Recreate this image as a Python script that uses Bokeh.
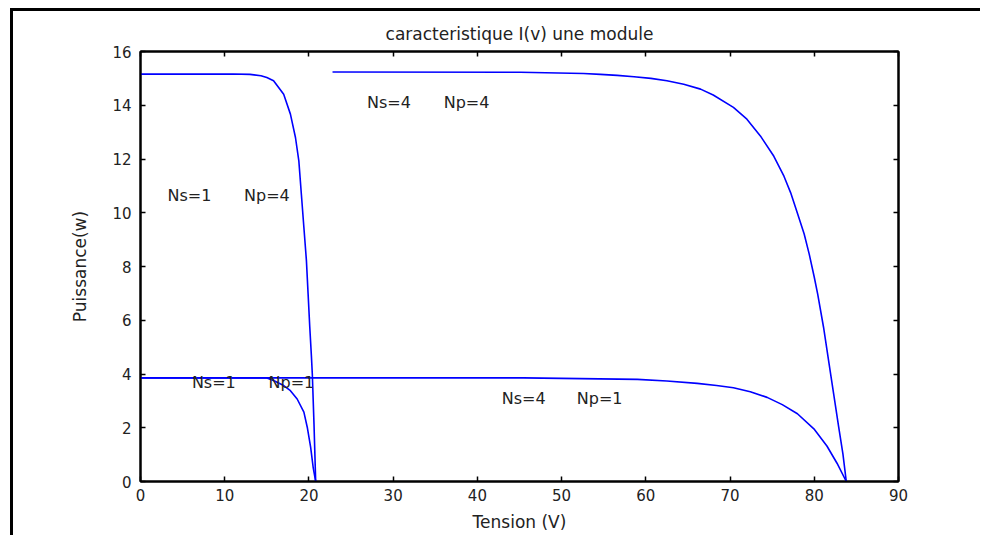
from bokeh.plotting import figure
from bokeh.models import Range1d, LinearAxis, FixedTicker, ColumnDataSource
from bokeh.core.properties import value
from bokeh.embed import file_html
from bokeh.resources import INLINE

# Axis ticks
x_ticks = [0, 10, 20, 30, 40, 50, 60, 70, 80, 90]
y_ticks = [0, 2, 4, 6, 8, 10, 12, 14, 16]

# Ns=1, Np=4
v_s1p4 = [0, 11.0, 13.0, 14.3, 15.0, 15.8, 17.0, 17.8, 18.4, 18.8, 19.1, 19.4,
          19.7, 19.9, 20.1, 20.3, 20.4, 20.6, 20.8]
i_s1p4 = [15.16, 15.16, 15.15, 15.10, 15.03, 14.91, 14.41, 13.67, 12.80, 11.93,
          10.69, 9.45, 8.22, 6.98, 5.74, 4.62, 4.0, 2.14, 0.0]

# Ns=1, Np=1
v_s1p1 = [0, 15.0, 15.8, 17.0, 17.8, 18.6, 19.4, 19.8, 20.2, 20.5, 20.8]
i_s1p1 = [3.855, 3.85, 3.76, 3.57, 3.38, 3.07, 2.58, 2.02, 1.28, 0.53, 0.0]

# Ns=4, Np=4
v_s4p4 = [22.8, 45.1, 52.6, 54.6, 56.6, 58.6, 60.6, 62.5, 64.5, 66.5, 68.0, 70.4,
          72.0, 73.6, 75.2, 76.4, 77.2, 78.0, 78.8, 79.4, 80.0, 80.4, 81.1, 81.7,
          82.3, 82.9, 83.4, 83.8]
i_s4p4 = [15.24, 15.23, 15.18, 15.15, 15.11, 15.06, 15.0, 14.91, 14.78, 14.60,
          14.38, 13.92, 13.48, 12.86, 12.10, 11.36, 10.74, 9.98, 9.21, 8.46, 7.60,
          6.98, 5.74, 4.50, 3.26, 2.02, 1.03, 0.0]

# Ns=4, Np=1
v_s4p1 = [0, 45.5, 59.0, 62.5, 66.1, 68.4, 70.4, 72.4, 74.4, 76.2, 78.0, 79.95,
          81.5, 82.7, 83.8]
i_s4p1 = [3.855, 3.855, 3.80, 3.74, 3.65, 3.57, 3.49, 3.34, 3.13, 2.86, 2.52, 1.96,
          1.32, 0.68, 0.0]

# Curve labels
label_x = [3.2, 12.3, 6.1, 15.2, 26.9, 36.0, 42.9, 51.8]
label_y = [10.63, 10.63, 3.69, 3.69, 14.1, 14.1, 3.08, 3.08]
label_text = ["Ns=1", "Np=4", "Ns=1", "Np=1", "Ns=4", "Np=4", "Ns=4", "Np=1"]

FONT = "DejaVu Sans"
TXT = "#222222"
BLUE = "#0000ff"

p = figure(width=970, height=527, x_range=Range1d(0, 90), y_range=Range1d(0, 16),
           output_backend="svg", toolbar_location=None,
           title="caracteristique I(v) une module",
           min_border_left=127, min_border_right=85, min_border_top=40,
           min_border_bottom=57)
p.styles = {"border-left": "3px solid black", "border-top": "3px solid black",
            "margin-left": "10px", "margin-top": "8px"}

p.background_fill_color = "white"
p.border_fill_color = "white"
p.grid.visible = False
p.outline_line_color = "black"
p.outline_line_width = 2

p.title.align = "center"
p.title.text_font = FONT
p.title.text_font_style = "normal"
p.title.text_font_size = "17px"
p.title.text_color = TXT
p.title.standoff = 16

for ax in (p.xaxis[0], p.yaxis[0]):
    ax.major_label_text_font = FONT
    ax.major_label_text_font_size = "15px"
    ax.major_label_text_color = TXT
    ax.axis_label_text_font = FONT
    ax.axis_label_text_font_size = "17px"
    ax.axis_label_text_font_style = "normal"
    ax.axis_label_text_color = TXT
    ax.axis_line_width = 2
    ax.major_tick_in = 5
    ax.major_tick_out = 0
    ax.minor_tick_line_color = None
    ax.major_tick_line_width = 1.5

p.xaxis[0].ticker = FixedTicker(ticks=x_ticks)
p.yaxis[0].ticker = FixedTicker(ticks=y_ticks)
p.xaxis[0].axis_label = "Tension (V)"
p.yaxis[0].axis_label = "Puissance(w)"
p.xaxis[0].major_label_standoff = 7
p.yaxis[0].major_label_standoff = 9
p.xaxis[0].axis_label_standoff = 8
p.yaxis[0].axis_label_standoff = 19

# Box axes on top and right: ticks only, labels not drawn
top_axis = LinearAxis(ticker=FixedTicker(ticks=x_ticks), major_label_text_font_size="1px",
                      major_label_text_color=None, major_label_standoff=0,
                      major_tick_in=5, major_tick_out=0,
                      minor_tick_line_color=None, axis_line_width=2, major_tick_line_width=1.5)
right_axis = LinearAxis(ticker=FixedTicker(ticks=y_ticks), major_label_text_font_size="1px",
                        major_label_text_color=None, major_label_standoff=0,
                        major_tick_in=5, major_tick_out=0,
                        minor_tick_line_color=None, axis_line_width=2, major_tick_line_width=1.5)
p.add_layout(top_axis, "above")
p.add_layout(right_axis, "right")

for vx, iy in ((v_s4p1, i_s4p1), (v_s1p1, i_s1p1), (v_s4p4, i_s4p4), (v_s1p4, i_s1p4)):
    p.line(vx, iy, line_color=BLUE, line_width=1.6)

src = ColumnDataSource(dict(x=label_x, y=label_y, text=label_text))
p.text(x="x", y="y", text="text", source=src, text_font=value(FONT),
       text_font_size="16px", text_color=TXT, text_baseline="middle", text_align="left")

open("out.html", "w").write(file_html(p, INLINE))
